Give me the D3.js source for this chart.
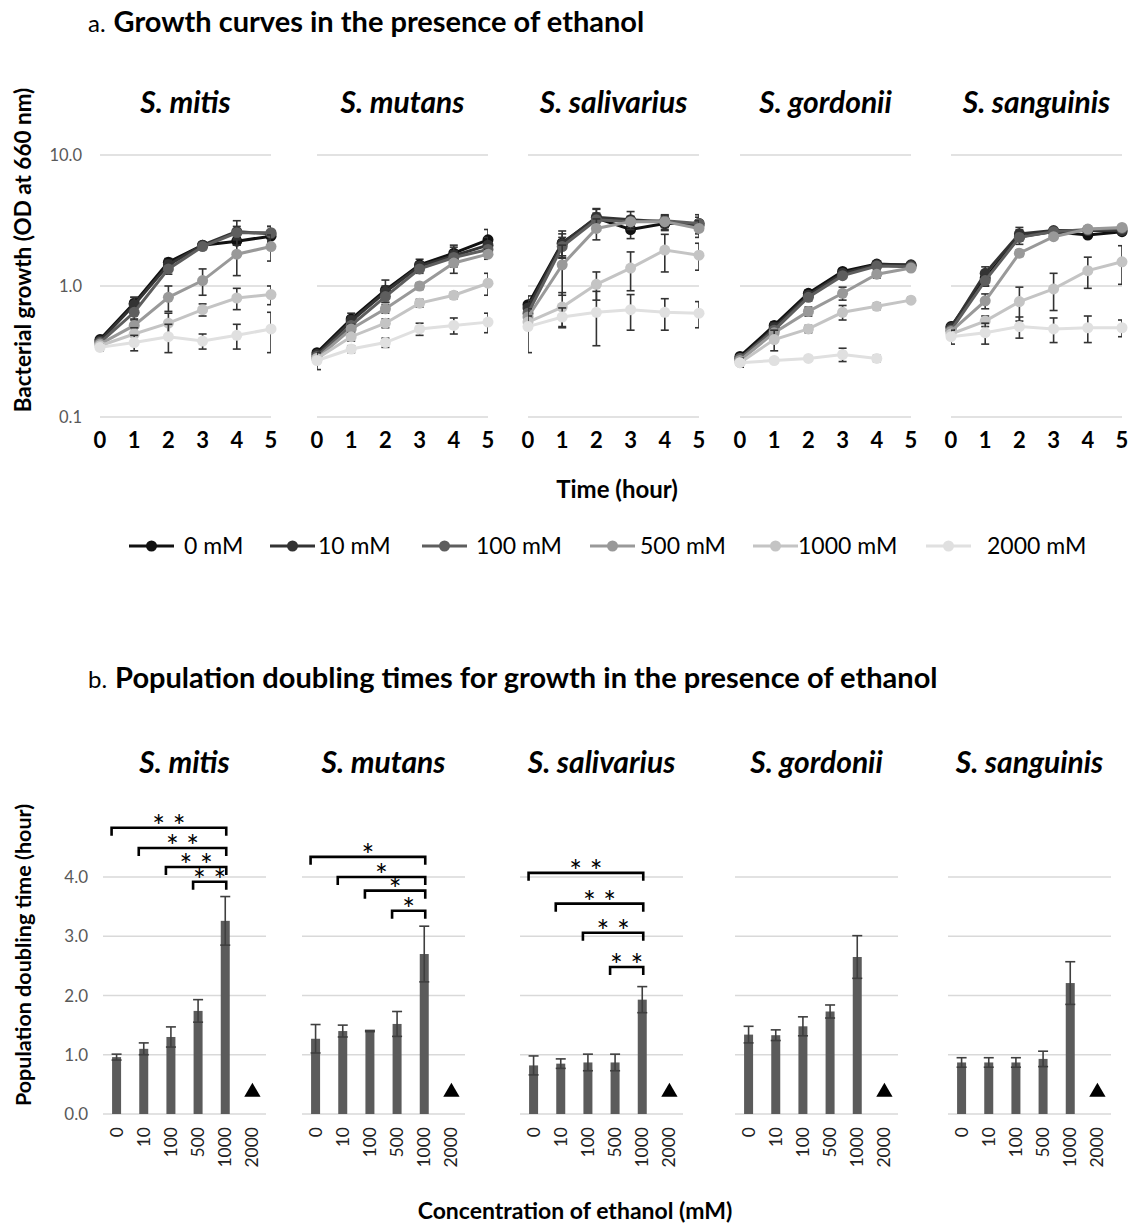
<!DOCTYPE html>
<html>
<head>
<meta charset="utf-8">
<script src="https://cdn.jsdelivr.net/npm/d3@7"></script>
<style>
    body { margin: 0; background: #fff; }
    svg text { font-family: Lato, 'Open Sans', sans-serif; }
</style>
</head>
<body>
<div id="chart"></div>
<script>
// ---- data ----
const species = ['S. mitis', 'S. mutans', 'S. salivarius', 'S. gordonii', 'S. sanguinis'];
const concLabels = ['0 mM', '10 mM', '100 mM', '500 mM', '1000 mM', '2000 mM'];
const concTicks = ['0', '10', '100', '500', '1000', '2000'];
const hours = [0, 1, 2, 3, 4, 5];
const odTicks = [0.1, 1, 10];
const doublingTicks = [0, 1, 2, 3, 4];

// OD at 660 nm, one row per concentration
const odMitis = [
    [0.39, 0.74, 1.52, 2.05, 2.2, 2.4],
    [0.38, 0.72, 1.45, 2.05, 2.6, 2.5],
    [0.37, 0.63, 1.35, 2.0, 2.55, 2.55],
    [0.36, 0.5, 0.82, 1.1, 1.75, 2.0],
    [0.35, 0.43, 0.52, 0.66, 0.81, 0.86],
    [0.34, 0.37, 0.41, 0.38, 0.42, 0.47]
];
const errMitis = [
    [0.03, 0.08, 0.1, 0.08, 0.15, 0.2],
    [0.03, 0.1, 0.12, 0.1, 0.55, 0.35],
    [0.03, 0.08, 0.12, 0.1, 0.3, 0.3],
    [0.02, 0.06, 0.18, 0.25, 0.55, 0.45],
    [0.02, 0.05, 0.1, 0.07, 0.15, 0.14],
    [0.02, 0.05, 0.1, 0.05, 0.09, 0.16]
];
const odMutans = [
    [0.31, 0.56, 0.93, 1.45, 1.78, 2.25],
    [0.3, 0.54, 0.9, 1.42, 1.7, 2.05],
    [0.29, 0.5, 0.83, 1.35, 1.65, 1.9],
    [0.28, 0.47, 0.67, 1.0, 1.5, 1.75],
    [0.28, 0.41, 0.52, 0.74, 0.85, 1.05],
    [0.27, 0.33, 0.37, 0.47, 0.5, 0.53]
];
const errMutans = [
    [0.02, 0.06, 0.18, 0.15, 0.2, 0.45],
    [0.02, 0.05, 0.1, 0.1, 0.15, 0.3],
    [0.02, 0.05, 0.08, 0.1, 0.4, 0.2],
    [0.02, 0.04, 0.05, 0.06, 0.1, 0.15],
    [0.02, 0.03, 0.04, 0.05, 0.05, 0.2],
    [0.04, 0.02, 0.03, 0.05, 0.07, 0.09]
];
const odSalivarius = [
    [0.72, 2.13, 3.3, 2.7, 3.0, 3.0],
    [0.68, 2.1, 3.35, 3.2, 3.1, 2.9],
    [0.62, 2.0, 3.2, 3.1, 3.15, 3.0],
    [0.58, 1.45, 2.75, 3.1, 3.1, 2.75],
    [0.53, 0.69, 1.03, 1.37, 1.88, 1.72],
    [0.49, 0.58, 0.63, 0.66, 0.63, 0.62]
];
const errSalivarius = [
    [0.12, 0.5, 0.6, 0.4, 0.35, 0.35],
    [0.1, 0.4, 0.5, 0.5, 0.3, 0.3],
    [0.08, 0.35, 0.4, 0.3, 0.3, 0.5],
    [0.06, 0.6, 0.5, 0.2, 0.4, 0.4],
    [0.06, 0.2, 0.25, 0.45, 0.6, 0.4],
    [0.18, 0.1, 0.28, 0.2, 0.17, 0.14]
];
const odGordonii = [
    [0.29, 0.5, 0.88, 1.29, 1.47, 1.44],
    [0.28, 0.48, 0.85, 1.25, 1.45, 1.45],
    [0.28, 0.46, 0.82, 1.2, 1.42, 1.4],
    [0.27, 0.44, 0.64, 0.88, 1.23, 1.37],
    [0.26, 0.39, 0.47, 0.63, 0.7, 0.78],
    [0.26, 0.27, 0.28, 0.3, 0.28, null]
];
const errGordonii = [
    [0.02, 0.03, 0.05, 0.06, 0.06, 0.05],
    [0.02, 0.04, 0.05, 0.05, 0.05, 0.05],
    [0.02, 0.03, 0.05, 0.05, 0.04, 0.05],
    [0.02, 0.03, 0.05, 0.1, 0.08, 0.06],
    [0.02, 0.07, 0.03, 0.08, 0.04, 0.04],
    [0.02, 0.01, 0.01, 0.035, 0.015, null]
];
const odSanguinis = [
    [0.49, 1.15, 2.38, 2.6, 2.45, 2.6],
    [0.48, 1.25, 2.5, 2.65, 2.65, 2.65],
    [0.46, 1.1, 2.35, 2.6, 2.7, 2.75],
    [0.45, 0.77, 1.78, 2.38, 2.72, 2.8],
    [0.43, 0.54, 0.76, 0.95, 1.31, 1.53],
    [0.41, 0.44, 0.49, 0.47, 0.48, 0.48]
];
const errSanguinis = [
    [0.04, 0.15, 0.3, 0.1, 0.1, 0.1],
    [0.04, 0.15, 0.3, 0.1, 0.1, 0.1],
    [0.03, 0.1, 0.1, 0.1, 0.1, 0.1],
    [0.03, 0.1, 0.1, 0.1, 0.1, 0.1],
    [0.03, 0.05, 0.22, 0.3, 0.35, 0.5],
    [0.05, 0.08, 0.09, 0.1, 0.11, 0.07]
];

// population doubling time (hour); 2000 mM = no growth (triangle)
const dblMitis = [0.96, 1.10, 1.30, 1.74, 3.26];
const dblErrMitis = [0.05, 0.10, 0.17, 0.19, 0.41];
const dblMutans = [1.27, 1.40, 1.40, 1.52, 2.70];
const dblErrMutans = [0.24, 0.10, 0.01, 0.21, 0.47];
const dblSalivarius = [0.82, 0.85, 0.87, 0.87, 1.93];
const dblErrSalivarius = [0.16, 0.08, 0.14, 0.14, 0.22];
const dblGordonii = [1.34, 1.33, 1.48, 1.73, 2.65];
const dblErrGordonii = [0.14, 0.09, 0.16, 0.11, 0.36];
const dblSanguinis = [0.87, 0.87, 0.87, 0.93, 2.21];
const dblErrSanguinis = [0.08, 0.08, 0.08, 0.13, 0.36];
const noGrowthLevel = 0.37;

// significance brackets: [from, to, label, height in hours]
const sigMitis = [['0', '1000', '* *', 4.83], ['10', '1000', '* *', 4.49], ['100', '1000', '* *', 4.17], ['500', '1000', '* *', 3.92]];
const sigMutans = [['0', '1000', '*', 4.34], ['10', '1000', '*', 4.0], ['100', '1000', '*', 3.77], ['500', '1000', '*', 3.43]];
const sigSalivarius = [['0', '1000', '* *', 4.07], ['10', '1000', '* *', 3.55], ['100', '1000', '* *', 3.06], ['500', '1000', '* *', 2.48]];

const growthData = [[odMitis, errMitis], [odMutans, errMutans], [odSalivarius, errSalivarius], [odGordonii, errGordonii], [odSanguinis, errSanguinis]];
const doublingData = [[dblMitis, dblErrMitis, sigMitis], [dblMutans, dblErrMutans, sigMutans], [dblSalivarius, dblErrSalivarius, sigSalivarius], [dblGordonii, dblErrGordonii, []], [dblSanguinis, dblErrSanguinis, []]];

const seriesColors = ['#111111', '#333333', '#5e5e5e', '#999999', '#c4c4c4', '#e0e0e0'];

// ---- svg ----
const width = 1131, height = 1227;
const svg = d3.select('#chart').append('svg').attr('width', width).attr('height', height);

const gridColor = '#d9d9d9';
const tickColor = '#595959';

// ===== panel a =====
svg.append('text').attr('x', 88).attr('y', 32).attr('font-size', 29)
    .html('<tspan font-size="24">a.</tspan><tspan dx="8" font-weight="bold">Growth curves in the presence of ethanol</tspan>');

const aLeft = [100, 317, 528, 740, 951];
const aWidth = 171;
const yOd = d3.scaleLog().domain([0.1, 10]).range([417, 155]);

svg.append('text').attr('transform', 'translate(31,250) rotate(-90)')
    .attr('text-anchor', 'middle').attr('font-size', 22.5).attr('font-weight', 'bold')
    .text('Bacterial growth (OD at 660 nm)');

svg.selectAll('.od-tick').data(odTicks).enter().append('text')
    .attr('class', 'od-tick').attr('x', 82).attr('y', d => yOd(d) + 6)
    .attr('text-anchor', 'end').attr('font-size', 16.5).attr('fill', tickColor)
    .text(d => d3.format('.1f')(d));

growthData.forEach(function (sp, i) {
    const x0 = aLeft[i];
    const x = d3.scaleLinear().domain([0, 5]).range([x0, x0 + aWidth]);
    const g = svg.append('g');

    g.append('text').attr('x', x0 + aWidth / 2).attr('y', 113).attr('text-anchor', 'middle')
        .attr('font-size', 30).attr('font-weight', 'bold').attr('font-style', 'italic')
        .text(species[i]);

    g.selectAll('.grid').data(odTicks).enter().append('line')
        .attr('x1', x0).attr('x2', x0 + aWidth).attr('y1', d => yOd(d)).attr('y2', d => yOd(d))
        .attr('stroke', gridColor).attr('stroke-width', 1.3);

    g.selectAll('.xt').data(hours).enter().append('text')
        .attr('x', d => x(d)).attr('y', 448).attr('text-anchor', 'middle')
        .attr('font-size', 22).attr('font-weight', 'bold').text(d => d);

    const clipId = 'clip' + i;
    svg.append('clipPath').attr('id', clipId).append('rect')
        .attr('x', x0).attr('y', 140).attr('width', aWidth).attr('height', 300);

    const line = d3.line().defined(d => d != null).x((d, k) => x(hours[k])).y(d => yOd(d));

    sp[0].forEach(function (vals, s) {
        const errs = sp[1][s];
        const pts = vals.map((v, k) => ({ t: hours[k], v: v, e: errs[k] })).filter(d => d.v != null);
        const sg = g.append('g');

        // error bars, clipped at the plot edges like the original
        const eb = sg.append('g').attr('clip-path', 'url(#' + clipId + ')')
            .attr('stroke', '#333').attr('stroke-width', 1.6);
        pts.forEach(function (d) {
            const lo = yOd(Math.max(d.v - d.e, 0.11)), hi = yOd(d.v + d.e);
            eb.append('line').attr('x1', x(d.t)).attr('x2', x(d.t)).attr('y1', lo).attr('y2', hi);
            eb.append('line').attr('x1', x(d.t) - 4).attr('x2', x(d.t) + 4).attr('y1', lo).attr('y2', lo);
            eb.append('line').attr('x1', x(d.t) - 4).attr('x2', x(d.t) + 4).attr('y1', hi).attr('y2', hi);
        });

        sg.append('path').datum(vals).attr('d', line).attr('fill', 'none')
            .attr('stroke', seriesColors[s]).attr('stroke-width', 3);
        sg.selectAll('circle').data(pts).enter().append('circle')
            .attr('cx', d => x(d.t)).attr('cy', d => yOd(d.v)).attr('r', 5.5)
            .attr('fill', seriesColors[s]);
    });
});

svg.append('text').attr('x', 617).attr('y', 498).attr('text-anchor', 'middle')
    .attr('font-size', 24).attr('font-weight', 'bold').text('Time (hour)');

// legend
const legLine = [129, 270, 422, 590, 753, 926];
const legText = [184, 318, 476, 640, 798, 987];
const leg = svg.append('g');
concLabels.forEach(function (c, s) {
    leg.append('line').attr('x1', legLine[s]).attr('x2', legLine[s] + 45).attr('y1', 546).attr('y2', 546)
        .attr('stroke', seriesColors[s]).attr('stroke-width', 3);
    leg.append('circle').attr('cx', legLine[s] + 22.5).attr('cy', 546).attr('r', 5.5).attr('fill', seriesColors[s]);
    leg.append('text').attr('x', legText[s]).attr('y', 554).attr('font-size', 23).text(c);
});

// ===== panel b =====
svg.append('text').attr('x', 88).attr('y', 688).attr('font-size', 29)
    .html('<tspan font-size="24">b.</tspan><tspan dx="8" font-weight="bold">Population doubling times for growth in the presence of ethanol</tspan>');

const bLeft = [103, 302, 520, 735, 948];
const bWidth = 163;
const yDbl = d3.scaleLinear().domain([0, 4]).range([1114, 877]);

svg.append('text').attr('transform', 'translate(31,955) rotate(-90)')
    .attr('text-anchor', 'middle').attr('font-size', 21.5).attr('font-weight', 'bold')
    .text('Population doubling time (hour)');

svg.selectAll('.dbl-tick').data(doublingTicks).enter().append('text')
    .attr('x', 88).attr('y', d => yDbl(d) + 6)
    .attr('text-anchor', 'end').attr('font-size', 17).attr('fill', tickColor)
    .text(d => d3.format('.1f')(d));

doublingData.forEach(function (sp, i) {
    const x0 = bLeft[i];
    const x = d3.scaleBand().domain(concTicks).range([x0, x0 + bWidth]);
    const cx = d => x(d) + x.bandwidth() / 2;
    const g = svg.append('g');

    g.append('text').attr('x', x0 + bWidth / 2).attr('y', 773).attr('text-anchor', 'middle')
        .attr('font-size', 30).attr('font-weight', 'bold').attr('font-style', 'italic')
        .text(species[i]);

    g.selectAll('.grid').data(doublingTicks).enter().append('line')
        .attr('x1', x0).attr('x2', x0 + bWidth).attr('y1', d => yDbl(d)).attr('y2', d => yDbl(d))
        .attr('stroke', gridColor).attr('stroke-width', 1.3);

    const bars = sp[0].map((v, k) => ({ c: concTicks[k], v: v, e: sp[1][k] }));

    g.selectAll('.bar').data(bars).enter().append('rect')
        .attr('x', d => cx(d.c) - 4.5).attr('width', 9)
        .attr('y', d => yDbl(d.v)).attr('height', d => yDbl(0) - yDbl(d.v))
        .attr('fill', '#5b5b5b');

    const eb = g.append('g').attr('stroke', '#3f3f3f').attr('stroke-width', 1.6);
    bars.forEach(function (d) {
        const lo = yDbl(d.v - d.e), hi = yDbl(d.v + d.e);
        eb.append('line').attr('x1', cx(d.c)).attr('x2', cx(d.c)).attr('y1', lo).attr('y2', hi);
        eb.append('line').attr('x1', cx(d.c) - 5).attr('x2', cx(d.c) + 5).attr('y1', lo).attr('y2', lo);
        eb.append('line').attr('x1', cx(d.c) - 5).attr('x2', cx(d.c) + 5).attr('y1', hi).attr('y2', hi);
    });

    // no growth at 2000 mM
    g.append('path').attr('d', d3.symbol().type(d3.symbolTriangle).size(115)())
        .attr('transform', 'translate(' + cx('2000') + ',' + yDbl(noGrowthLevel) + ')')
        .attr('fill', '#000');

    g.selectAll('.bt').data(concTicks).enter().append('text')
        .attr('transform', d => 'translate(' + (cx(d) + 6) + ',1127) rotate(-90)')
        .attr('text-anchor', 'end').attr('font-size', 17.5).attr('fill', '#222').text(d => d);

    // significance brackets
    sp[2].forEach(function (b) {
        const xa = cx(b[0]) - 5, xb = cx(b[1]) + 1, yb = yDbl(b[3]);
        g.append('path').attr('d', 'M' + xa + ',' + (yb + 8) + 'V' + yb + 'H' + xb + 'V' + (yb + 8))
            .attr('fill', 'none').attr('stroke', '#000').attr('stroke-width', 2.6);
        g.append('text').attr('x', (xa + xb) / 2).attr('y', yb + 9)
            .attr('text-anchor', 'middle')
            .attr('font-family', 'DejaVu Sans').attr('font-size', 30)
            .text(b[2]);
    });
});

svg.append('text').attr('x', 575).attr('y', 1219).attr('text-anchor', 'middle')
    .attr('font-size', 23).attr('font-weight', 'bold').text('Concentration of ethanol (mM)');
</script>
</body>
</html>
